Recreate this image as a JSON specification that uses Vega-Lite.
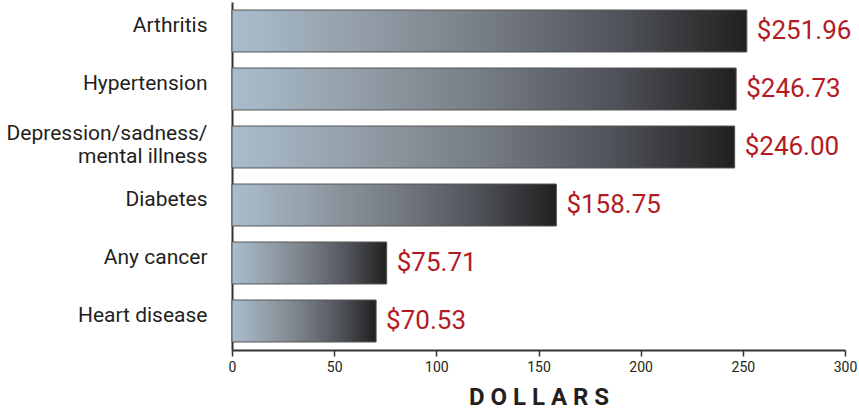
{
  "$schema": "https://vega.github.io/schema/vega-lite/v6.json",
  "width": 613,
  "height": 348,
  "autosize": "none",
  "padding": {"left": 232, "top": 2, "right": 14, "bottom": 61},
  "background": "white",
  "config": {
    "view": {"stroke": null},
    "font": "Roboto",
    "axis": {"grid": false, "domainColor": "#333333", "domainWidth": 2, "labelFont": "Roboto", "titleFont": "Roboto"}
  },
  "data": {
    "values": [
      {"condition": "Arthritis", "cost": 251.96},
      {"condition": "Hypertension", "cost": 246.73},
      {"condition": "Depression/sadness/|mental illness", "cost": 246.00},
      {"condition": "Diabetes", "cost": 158.75},
      {"condition": "Any cancer", "cost": 75.71},
      {"condition": "Heart disease", "cost": 70.53}
    ]
  },
  "encoding": {
    "y": {
      "field": "condition",
      "type": "nominal",
      "sort": null,
      "scale": {"paddingInner": 0.276, "paddingOuter": 0.138},
      "axis": {
        "title": null,
        "ticks": false,
        "labelPadding": 25,
        "labelFontSize": 21,
        "labelLimit": 300,
        "labelOffset": {"condition": {"test": "indexof(datum.value, '|') >= 0", "value": -13}, "value": -5},
        "labelColor": "#231f20",
        "labelLineHeight": 23,
        "labelExpr": "split(datum.value, '|')"
      }
    },
    "x": {
      "field": "cost",
      "type": "quantitative",
      "scale": {"domain": [0, 300], "nice": false},
      "axis": {
        "values": [0, 50, 100, 150, 200, 250, 300],
        "title": "D O L L A R S",
        "titleFontSize": 24,
        "titleFontWeight": "bold",
        "titleColor": "#231f20",
        "titlePadding": 11,
        "tickSize": 6,
        "tickColor": "#333333",
        "tickWidth": 1.5,
        "labelFontSize": 14,
        "labelColor": "#231f20",
        "labelPadding": 4,
        "labelFlush": false
      }
    }
  },
  "layer": [
    {
      "mark": {
        "type": "bar",
        "stroke": "#555555",
        "strokeWidth": 1,
        "color": {
          "gradient": "linear",
          "x1": 0, "y1": 0, "x2": 1, "y2": 0,
          "stops": [
            {"offset": 0, "color": "#aabdcd"},
            {"offset": 0.25, "color": "#939ea8"},
            {"offset": 0.5, "color": "#767c83"},
            {"offset": 0.75, "color": "#50545a"},
            {"offset": 1, "color": "#221f20"}
          ]
        }
      }
    },
    {
      "mark": {"type": "text", "align": "left", "baseline": "middle", "dx": 10, "fontSize": 26, "color": "#b31b24"},
      "encoding": {"text": {"field": "cost", "type": "quantitative", "format": "$.2f"}}
    }
  ]
}
